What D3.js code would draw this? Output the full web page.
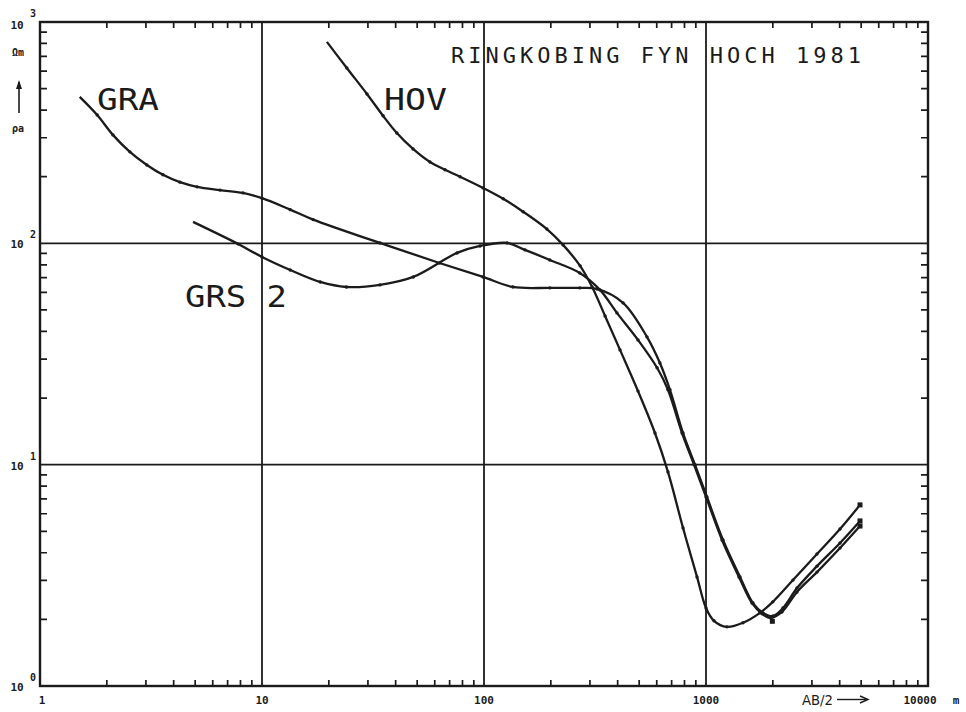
<!DOCTYPE html>
<html><head><meta charset="utf-8">
<script src="https://cdn.jsdelivr.net/npm/d3@7"></script>
<style>body{margin:0;background:#fff}svg{display:block}</style>
</head><body>
<svg id="c" width="966" height="712"></svg>
<script>
// ---- data ----
const xTickValues = [1, 10, 100, 1000, 10000];
const xTickLabels = ["1", "10", "100", "1000", "10000"];
const yTickValues = [1, 10, 100, 1000];
const yTickExps   = ["0", "1", "2", "3"];
const minorMultipliers = [2, 3, 4, 5, 6, 7, 8, 9];
const titleText = "RINGKOBING FYN HOCH 1981";
const xAxisName = "AB/2";
const xUnit = "m";
const yUnit = "Ωm";
const yName = "ρa";
const seriesNames = ["GRA", "HOV", "GRS 2"];

const graAB  = [1.51, 1.81, 2.13, 2.54, 3.03, 3.58, 4.27, 5.10, 6.47, 8.21, 10, 13.4, 17, 34, 63, 99, 135, 198, 270, 323,
                423, 542, 620, 688, 788, 892, 1010, 1193, 1423, 1628, 1806, 2003, 2222, 2570, 3162, 4015, 4940];
const graRho = [459, 380, 309, 259, 226, 204, 189, 180, 174, 169, 160, 142, 128, 100.4, 81.5, 70.5, 63.5, 62.9, 62.9, 62.2,
                53.8, 37.8, 28.8, 21.8, 13.9, 10, 7.15, 4.57, 3.11, 2.37, 2.14, 2.07, 2.25, 2.77, 3.48, 4.43, 5.57];

const hovAB  = [19.6, 24.1, 29.7, 35.1, 40.5, 47.9, 57.1, 66.7, 78, 99, 122, 150, 192, 227, 271, 307,
                351, 410, 494, 589, 674, 788, 911, 1000, 1086, 1243, 1468, 1750, 2000, 2465, 3162, 4015, 4940];
const hovRho = [813, 620, 473, 377, 315, 267, 233, 215, 200, 178, 159, 139, 116, 98.4, 79.1, 63.5,
                47, 33, 21.5, 13.9, 9.27, 5.18, 3.11, 2.25, 1.97, 1.85, 1.93, 2.14, 2.40, 3.01, 3.95, 5.12, 6.58];

const grsAB  = [4.89, 7.8, 10, 13.4, 18.3, 24, 34, 48, 75.6, 96, 127, 153, 198, 270, 333,
                397, 494, 602, 674, 780, 883, 1000, 1181, 1408, 1612, 1788, 1963, 2199, 2570, 3162, 4015, 4940];
const grsRho = [125, 99.4, 86.8, 75.8, 66.9, 63.5, 64.9, 70.5, 90.5, 97.3, 100.4, 93.4, 84.1, 73.5, 61.6,
                48.5, 36.6, 27.4, 21.8, 13.9, 10, 7.15, 4.57, 3.11, 2.37, 2.12, 2.03, 2.16, 2.66, 3.27, 4.20, 5.28];

const loneMarkerAB = [1990];
const loneMarkerRho = [1.96];

// ---- drawing ----
const svg = d3.select("#c");
const ink = "#1b1b1b";
const x = d3.scaleLog().domain([1, 10000]).range([40, 928]);
const y = d3.scaleLog().domain([1, 1000]).range([686, 22]);

const minorX = [], minorY = [];
xTickValues.slice(0, -1).forEach(d => minorMultipliers.forEach(k => minorX.push(d * k)));
yTickValues.slice(0, -1).forEach(d => minorMultipliers.forEach(k => minorY.push(d * k)));

// minor ticks (inward on all four sides), drawn as one path
let tickD = "";
minorX.forEach(v => {
  const px = x(v);
  tickD += `M${px},${y(1)}V${y(1) - 6}M${px},${y(1000)}V${y(1000) + 6}`;
});
minorY.forEach(v => {
  const py = y(v);
  tickD += `M${x(1)},${py}H${x(1) + 7}M${x(10000)},${py}H${x(10000) - 7}`;
});
svg.append("path").attr("d", tickD).attr("fill", "none")
  .attr("stroke", ink).attr("stroke-width", 1.7);

// grid lines at decades
const grid = svg.append("g").attr("stroke", ink).attr("stroke-width", 1.8);
grid.selectAll(".gx").data(xTickValues.slice(1, -1)).join("line").attr("class", "gx")
  .attr("x1", d => x(d)).attr("x2", d => x(d)).attr("y1", y(1)).attr("y2", y(1000));
grid.selectAll(".gy").data(yTickValues.slice(1, -1)).join("line").attr("class", "gy")
  .attr("x1", x(1)).attr("x2", x(10000)).attr("y1", d => y(d)).attr("y2", d => y(d));

// frame
svg.append("rect").attr("x", x(1)).attr("y", y(1000))
  .attr("width", x(10000) - x(1)).attr("height", y(1) - y(1000))
  .attr("fill", "none").attr("stroke", ink).attr("stroke-width", 2.4);

// x tick labels
const lblFont = "DejaVu Sans Mono, monospace";
svg.append("g").selectAll("text").data(xTickValues.slice(0, -1)).join("text")
  .attr("x", d => x(d) + (d === 1 ? 2 : 0)).attr("y", 704)
  .attr("text-anchor", "middle").attr("font-family", lblFont).attr("font-weight", "bold")
  .attr("font-size", 11).attr("fill", ink)
  .text((d, i) => xTickLabels[i]);
svg.append("text").attr("x", 920).attr("y", 704).attr("text-anchor", "middle")
  .attr("font-family", lblFont).attr("font-weight", "bold").attr("font-size", 11).attr("fill", ink)
  .text(xTickLabels[4]);
svg.append("text").attr("x", 956).attr("y", 704).attr("text-anchor", "middle")
  .attr("font-family", lblFont).attr("font-weight", "bold").attr("font-size", 11).attr("fill", ink)
  .text(xUnit);
svg.append("text").attr("x", 802).attr("y", 705)
  .attr("font-family", "DejaVu Sans, sans-serif").attr("font-size", 14).attr("fill", ink)
  .attr("textLength", 31).attr("lengthAdjust", "spacingAndGlyphs")
  .text(xAxisName);
svg.append("line").attr("x1", 837).attr("x2", 866).attr("y1", 699.5).attr("y2", 699.5)
  .attr("stroke", ink).attr("stroke-width", 1.4);
svg.append("path").attr("d", "M860,696 L868,699.5 L860,703").attr("fill", "none")
  .attr("stroke", ink).attr("stroke-width", 1.4);

// y tick labels
const yl = svg.append("g").selectAll("g").data(yTickValues).join("g");
yl.append("text").attr("x", 17).attr("y", d => y(d) + 5 + (d === 1000 ? 2 : 0))
  .attr("text-anchor", "middle").attr("font-family", lblFont).attr("font-weight", "bold")
  .attr("font-size", 11).attr("fill", ink).text("10");
yl.append("text").attr("x", 33).attr("y", d => y(d) - 5)
  .attr("text-anchor", "middle").attr("font-family", lblFont).attr("font-weight", "bold")
  .attr("font-size", 10).attr("fill", ink).text((d, i) => yTickExps[i]);

// y unit / name / arrow
svg.append("text").attr("x", 18).attr("y", 56).attr("text-anchor", "middle")
  .attr("font-family", lblFont).attr("font-weight", "bold").attr("font-size", 10).attr("fill", ink).text(yUnit);
svg.append("text").attr("x", 18).attr("y", 132).attr("text-anchor", "middle")
  .attr("font-family", lblFont).attr("font-weight", "bold").attr("font-size", 10).attr("fill", ink).text(yName);
svg.append("line").attr("x1", 19).attr("x2", 19).attr("y1", 113).attr("y2", 82)
  .attr("stroke", ink).attr("stroke-width", 1.6);
svg.append("path").attr("d", "M16,89 L19,80 L22,89 Z").attr("fill", ink);

// title
svg.append("text").attr("x", 451).attr("y", 63)
  .attr("font-family", lblFont).attr("font-size", 22).attr("fill", ink)
  .attr("textLength", 410).attr("lengthAdjust", "spacing")
  .text(titleText);

// curves
const lineGen = d3.line().x(d => x(d[0])).y(d => y(d[1])).curve(d3.curveCatmullRom.alpha(0.5));
const allSeries = [
  {name: seriesNames[0], ab: graAB, rho: graRho, lx: 97, ly: 110, lw: 62},
  {name: seriesNames[1], ab: hovAB, rho: hovRho, lx: 384, ly: 110, lw: 63},
  {name: seriesNames[2], ab: grsAB, rho: grsRho, lx: 185, ly: 307, lw: 102}
];
const cg = svg.append("g");
allSeries.forEach(s => {
  const pts = s.ab.map((a, i) => [a, s.rho[i]]);
  cg.append("path").datum(pts).attr("d", lineGen).attr("fill", "none")
    .attr("stroke", ink).attr("stroke-width", 2.3).attr("stroke-linejoin", "round");
  cg.selectAll(null).data(pts.slice(1, -1)).join("circle")
    .attr("cx", d => x(d[0])).attr("cy", d => y(d[1])).attr("r", 1.7).attr("fill", ink);
  const last = pts[pts.length - 1];
  cg.append("rect").attr("x", x(last[0]) - 2.5).attr("y", y(last[1]) - 2.5)
    .attr("width", 5).attr("height", 5).attr("fill", ink);
  cg.append("text").attr("x", s.lx).attr("y", s.ly)
    .attr("font-family", "DejaVu Sans Mono, monospace").attr("font-size", 31).attr("fill", ink)
    .attr("textLength", s.lw).attr("lengthAdjust", "spacingAndGlyphs")
    .text(s.name);
});
cg.selectAll(null).data(loneMarkerAB.map((a, i) => [a, loneMarkerRho[i]])).join("rect")
  .attr("x", d => x(d[0]) - 2.5).attr("y", d => y(d[1]) - 2.5)
  .attr("width", 5).attr("height", 5).attr("fill", ink);
</script>
</body></html>
